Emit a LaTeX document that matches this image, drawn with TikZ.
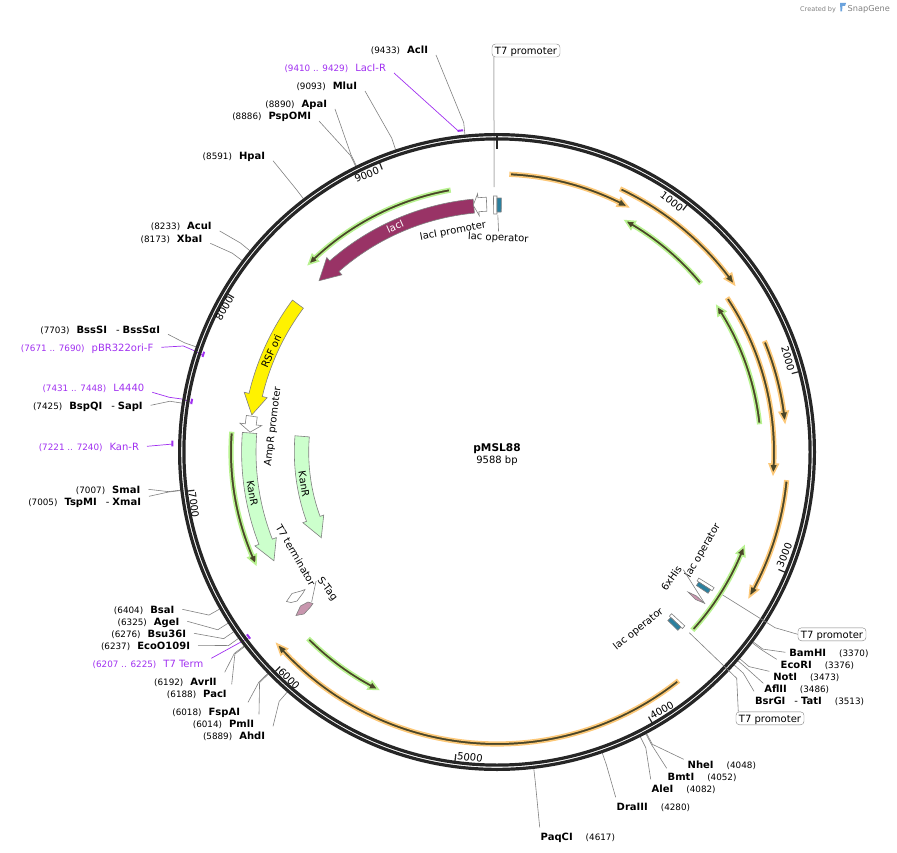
\documentclass[tikz,border=0pt]{standalone}
\usepackage{fontspec}
\setmainfont{DejaVu Sans}
\usepackage{xcolor}
\definecolor{primerpurple}{HTML}{A030F0}
\definecolor{ringdark}{HTML}{262626}
\definecolor{halodark}{HTML}{4A4628}
\definecolor{haloorange}{HTML}{FCC878}
\definecolor{halogreen}{HTML}{B8F290}
\definecolor{lacmagenta}{HTML}{993366}
\definecolor{kanlight}{HTML}{CCFFCC}
\definecolor{opteal}{HTML}{2A7F9E}
\definecolor{tagpink}{HTML}{C896AE}

\newcommand{\numfont}{\fontsize{8.8}{10}\selectfont}
\newcommand{\cutl}[2]{{\numfont(#1)}\hspace{7pt}\textbf{#2}}
\newcommand{\cutr}[2]{\textbf{#1}\hspace{13pt}{\numfont(#2)}}
\newcommand{\featarrow}[7][]{\path[#1] ({90-#2}:{#5+#6}) arc[start angle={90-#2}, end angle={90-#3}, radius={#5+#6}] -- ({90-#3}:{#5+#7}) -- ({90-#4}:#5) -- ({90-#3}:{#5-#7}) -- ({90-#3}:{#5-#6}) arc[start angle={90-#3}, end angle={90-#2}, radius={#5-#6}] -- cycle;}
\newcommand{\sectorbox}[5][]{\path[#1] ({90-#2}:#4) arc[start angle={90-#2}, end angle={90-#3}, radius=#4] -- ({90-#3}:#5) arc[start angle={90-#3}, end angle={90-#2}, radius=#5] -- cycle;}
\newcommand{\siteline}[2]{\draw[leader, shift={(497,-452)}] (#1) -- ({90-#2*0.037547}:331) -- ({90-#2*0.037547}:319);}

\tikzset{
  txt/.style={inner sep=0pt, text height=9pt, text depth=1pt, font=\fontsize{10}{12}\selectfont},
  enzl/.style={txt, anchor=east, outer xsep=8pt, outer ysep=0pt},
  enzr/.style={txt, anchor=west, outer xsep=4pt, outer ysep=0pt},
  primerl/.style={enzl, text=primerpurple},
  boxed/.style={txt, draw=gray, rounded corners=3.5pt, inner xsep=3pt, inner ysep=1.5pt},
  ticklabel/.style={txt},
  leader/.style={draw=gray, line width=0.6pt},
  lightleader/.style={draw=black!30, line width=1pt},
  primerline/.style={draw=primerpurple, line width=0.7pt},
  primermark/.style={draw=primerpurple, line width=2pt},
  ringtick/.style={draw=ringdark, line width=1.2pt},
  orangef/.style={fill=halodark, draw=haloorange, line width=1.6pt, miter limit=6},
  greenf/.style={fill=halodark, draw=halogreen, line width=1.6pt, miter limit=6},
  bigf/.style={draw=gray, line width=0.6pt},
}

\begin{document}
\begin{tikzpicture}[x=1pt, y=1pt]
\useasboundingbox (0,-853) rectangle (897,0);

\node (created) [txt, anchor=west, text=gray, font=\fontsize{6.5}{8}\selectfont] at (800,-7.5) {Created by};
\node (snapgene) [txt, anchor=west, text=gray, font=\fontsize{8.2}{10}\selectfont] at (847.5,-7.5) {SnapGene};
\path[fill=cyan!60!blue!60] (840,-3) -- (846,-3) -- (845,-6) -- (842.5,-6) -- (842,-11.5) -- (840.5,-11.5) -- cycle;

% labels round the ring, left half
\node (acli) [enzl] at (436,-50) {\cutl{9433}{AclI}};
\node (lacir) [primerl] at (394,-68) {{\numfont(9410 .. 9429)}\hspace{7pt}LacI-R};
\node (mlui) [enzl] at (365,-86) {\cutl{9093}{MluI}};
\node (apai) [enzl] at (335,-104) {\cutl{8890}{ApaI}};
\node (pspomi) [enzl] at (319,-116) {\cutl{8886}{PspOMI}};
\node (hpai) [enzl] at (273,-155.7) {\cutl{8591}{HpaI}};
\node (acui) [enzl] at (219.7,-226) {\cutl{8233}{AcuI}};
\node (xbai) [enzl] at (210.3,-238.3) {\cutl{8173}{XbaI}};
\node (bsssi) [enzl] at (168,-329.3) {\cutl{7703}{BssSI}\hspace{9pt}-\hspace{3pt}\textbf{BssSαI}};
\node (pbrf) [primerl] at (161.3,-347.3) {{\numfont(7671 .. 7690)}\hspace{7pt}pBR322ori-F};
\node (lfour) [primerl] at (152.3,-387.3) {{\numfont(7431 .. 7448)}\hspace{7pt}L4440};
\node (bspqi) [enzl] at (150.7,-405.3) {\cutl{7425}{BspQI}\hspace{9pt}-\hspace{3pt}\textbf{SapI}};
\node (kanprimer) [primerl] at (147,-446.3) {{\numfont(7221 .. 7240)}\hspace{7pt}Kan-R};
\node (smai) [enzl] at (148.3,-489.3) {\cutl{7007}{SmaI}};
\node (tspmi) [enzl] at (149,-501.3) {\cutl{7005}{TspMI}\hspace{9pt}-\hspace{3pt}\textbf{XmaI}};
\node (bsai) [enzl] at (182.3,-609.3) {\cutl{6404}{BsaI}};
\node (agei) [enzl] at (187.3,-621.3) {\cutl{6325}{AgeI}};
\node (bsu) [enzl] at (194,-633.3) {\cutl{6276}{Bsu36I}};
\node (ecoo) [enzl] at (198,-645.3) {\cutl{6237}{EcoO109I}};
\node (tterm) [primerl] at (211.3,-663.3) {{\numfont(6207 .. 6225)}\hspace{7pt}T7 Term};
\node (avrii) [enzl, outer ysep=4pt] at (224.7,-681.3) {\cutl{6192}{AvrII}};
\node (paci) [enzl, outer xsep=5pt, outer ysep=4pt] at (231.7,-693.3) {\cutl{6188}{PacI}};
\node (fspai) [enzl, outer ysep=4pt] at (248,-711.3) {\cutl{6018}{FspAI}};
\node (pmli) [enzl, outer xsep=5pt, outer ysep=4pt] at (259,-723.3) {\cutl{6014}{PmlI}};
\node (ahdi) [enzl, outer ysep=4pt] at (273,-735.3) {\cutl{5889}{AhdI}};

% labels round the ring, right half
\node (bamhi) [enzr] at (785.3,-652.3) {\cutr{BamHI}{3370}};
\node (ecori) [enzr] at (776.7,-664.3) {\cutr{EcoRI}{3376}};
\node (noti) [enzr] at (769.3,-676.3) {\cutr{NotI}{3473}};
\node (aflii) [enzr, outer xsep=1pt] at (763.3,-688.3) {\cutr{AflII}{3486}};
\node (bsrgi) [enzr, outer xsep=1pt, outer ysep=4pt] at (754,-700.3) {\textbf{BsrGI}\hspace{9pt}-\hspace{3pt}\textbf{TatI}\hspace{13pt}{\numfont(3513)}};
\node (nhei) [enzr] at (683.7,-764.3) {\cutr{NheI}{4048}};
\node (bmti) [enzr, outer xsep=1pt, outer ysep=3pt] at (666.7,-776.3) {\cutr{BmtI}{4052}};
\node (alei) [enzr, outer xsep=1pt, outer ysep=4pt] at (650.7,-788.3) {\cutr{AleI}{4082}};
\node (draiii) [enzr, outer xsep=1pt, outer ysep=4pt] at (615.7,-806.3) {\cutr{DraIII}{4280}};
\node (paqci) [enzr, outer xsep=1pt, outer ysep=4pt] at (539.7,-836.3) {\cutr{PaqCI}{4617}};

\node (tsevtop) [boxed] at (526,-50.5) {T7 promoter};
\node (tsevright) [boxed] at (832,-634.3) {T7 promoter};
\node (tsevlow) [boxed] at (770,-718.3) {T7 promoter};

\siteline{acli.south east}{9433}
\siteline{mlui.south east}{9093}
\siteline{apai.south east}{8890}
\siteline{pspomi.south east}{8886}
\siteline{hpai.south east}{8591}
\siteline{acui.south east}{8233}
\siteline{xbai.south east}{8173}
\siteline{bsssi.south east}{7703}
\siteline{bspqi.east}{7425}
\siteline{smai.east}{7007}
\siteline{tspmi.north east}{7005}
\siteline{bsai.east}{6404}
\siteline{agei.east}{6325}
\siteline{bsu.east}{6276}
\siteline{ecoo.east}{6237}
\siteline{avrii.north east}{6192}
\siteline{paci.north east}{6188}
\siteline{fspai.north east}{6018}
\siteline{pmli.north east}{6014}
\siteline{ahdi.north east}{5889}
\siteline{bamhi.west}{3370}
\siteline{ecori.north west}{3376}
\siteline{noti.north west}{3473}
\siteline{aflii.north west}{3486}
\siteline{bsrgi.north west}{3513}
\siteline{nhei.north west}{4048}
\siteline{bmti.north west}{4052}
\siteline{alei.north west}{4082}
\siteline{draiii.north west}{4280}
\siteline{paqci.north west}{4617}

\begin{scope}[shift={(497,-452)}]
\coordinate (lacirmark) at (96.9:323.5);
\coordinate (pbrmark) at (-198.2:310);
\coordinate (lfourmark) at (-189.2:310);
\coordinate (kanmark) at (-181.4:324.8);
\coordinate (ttermmark) at (-143.2:310);
\coordinate (tsevtopend) at (90.6:265);
\coordinate (opertop) at (89.8:237);
\end{scope}

\draw[primerline] (lacir.south east) -- (lacirmark);
\draw[primerline] (pbrf.east) -- (183.3,-346) -- (192.7,-350) -- (pbrmark);
\draw[primerline] (lfour.south east) -- (169.3,-397.3) -- (181.7,-399) -- (lfourmark);
\draw[primerline] (kanprimer.east) -- (kanmark);
\draw[primerline] (tterm.north east) -- (ttermmark);

\draw[lightleader] (tsevtop.south west) ++(2,0) -- (tsevtopend);

\begin{scope}[shift={(497,-452)}]
\draw[ringdark, line width=3.2pt] (0,0) circle (317.4);
\draw[ringdark, line width=3.2pt] (0,0) circle (313.1);
\draw[ringtick, line width=2.4pt] (90:317) -- (90:303);
\draw[ringtick] (52.45:312) -- (52.45:305);
\draw[ringtick] (14.9:312) -- (14.9:305);
\draw[ringtick] (-22.65:312) -- (-22.65:305);
\draw[ringtick] (-60.2:312) -- (-60.2:305);
\draw[ringtick] (-97.75:312) -- (-97.75:305);
\draw[ringtick] (-135.3:312) -- (-135.3:305);
\draw[ringtick] (-172.8:312) -- (-172.8:305);
\draw[ringtick] (-210.4:312) -- (-210.4:305);
\draw[ringtick] (-247.9:312) -- (-247.9:305);

\draw[primermark] (97:323.5) arc[start angle=97, end angle=96, radius=323.5];
\draw[primermark] (-197.9:309.5) arc[start angle=-197.9, end angle=-198.9, radius=309.5];
\draw[primermark] (-188.9:309.5) arc[start angle=-188.9, end angle=-189.9, radius=309.5];
\draw[primermark] (-181:324.8) arc[start angle=-181, end angle=-182, radius=324.8];
\draw[primermark] (-142.9:309.5) arc[start angle=-142.9, end angle=-143.9, radius=309.5];

\featarrow[orangef]{2.7}{26}{28.1}{278}{1.8}{4.5}
\featarrow[orangef]{25.2}{52.7}{54.8}{290.5}{1.8}{4.5}
\featarrow[orangef]{56.3}{92.5}{94.6}{277}{1.8}{4.5}
\featarrow[orangef]{67.6}{82}{84.1}{289.5}{1.8}{4.5}
\featarrow[orangef]{95.7}{117.8}{119.9}{291}{1.8}{4.5}
\featarrow[orangef]{141.7}{226.8}{228.9}{292}{1.8}{4.5}
\featarrow[greenf]{50.3}{31}{29}{264.5}{1.8}{4.5}
\featarrow[greenf]{83.8}{58.4}{56.4}{264}{1.8}{4.5}
\featarrow[greenf]{132.2}{112.9}{110.9}{264.5}{1.8}{4.5}
\featarrow[greenf]{225.2}{208.6}{206.6}{265.5}{1.8}{4.5}
\featarrow[greenf]{274.2}{247}{245}{266}{1.8}{4.5}
\featarrow[greenf]{349.8}{316.9}{314.9}{266}{1.8}{4.5}

\featarrow[bigf, fill=lacmagenta]{354.6}{318.8}{313.9}{247}{7}{11.5}
\featarrow[bigf, fill=yellow]{306.6}{283.3}{278.6}{248}{6.8}{11.8}
\featarrow[bigf, fill=kanlight]{274.4}{248.8}{244}{248.2}{7.2}{11.5}
\featarrow[bigf, fill=kanlight]{274.6}{250}{244}{195.5}{7.2}{11.1}
\featarrow[bigf, fill=white]{278.3}{276.4}{274.6}{247.8}{5.5}{11}
\featarrow[bigf, fill=white]{357.6}{355.7}{354.5}{248}{7}{11}

\sectorbox[bigf, fill=white]{-0.8}{0}{238}{256}
\sectorbox[bigf, fill=opteal]{0}{1}{240}{254}
\sectorbox[bigf, fill=white]{122}{122.8}{238}{256}
\sectorbox[bigf, fill=opteal]{122.8}{123.8}{240}{254}
\sectorbox[bigf, fill=white]{132.8}{133.6}{238}{256}
\sectorbox[bigf, fill=opteal]{133.6}{134.6}{240}{254}
\end{scope}

% small features
\draw[bigf, fill=white] (286.5,-601.5) -- (292,-593.5) -- (301,-591) -- (305,-589.5) -- (303,-593) -- (297,-601) -- (291,-602.5) -- cycle;
\draw[bigf, fill=tagpink] (296,-615.5) -- (300.5,-606) -- (308,-602) -- (313,-603.5) -- (310.5,-607) -- (304,-614) -- cycle;
\draw[bigf, fill=tagpink] (688,-592) -- (696.5,-596) -- (704,-603) -- (695.5,-599.5) -- cycle;

\node (pmsl) [txt, font=\fontsize{10.6}{12}\selectfont\bfseries] at (497,-447) {pMSL88};
\node (size) [txt] at (497,-459) {9588 bp};

\node (t1000) [ticklabel, rotate=-37.5] at (672,-201) {1000};
\node (t2000) [ticklabel, rotate=-75] at (788.3,-358.3) {2000};
\node (t3000) [ticklabel, rotate=67.4] at (784,-555) {3000};
\node (t4000) [ticklabel, rotate=29.8] at (661.7,-710) {4000};
\node (t5000) [ticklabel, rotate=-7.7] at (470,-757) {5000};
\node (t6000) [ticklabel, rotate=-45.3] at (289.3,-678.3) {6000};
\node (t7000) [ticklabel, rotate=-82.8] at (194.3,-505) {7000};
\node (t8000) [ticklabel, rotate=59.6] at (224,-308.3) {8000};
\node (t9000) [ticklabel, rotate=22.1] at (366.7,-174.3) {9000};

\node (lacilabel) [txt, text=white, rotate=24] at (395,-226) {lacI};
\node (rsflabel) [txt, rotate=66] at (271,-351) {RSF ori};
\node (kanleft) [txt, rotate=-80.4] at (252.7,-493.3) {KanR};
\node (kanright) [txt, rotate=-80.6] at (304.3,-484) {KanR};
\node (lacip) [txt, rotate=10.5] at (452.7,-230) {lacI promoter};
\node (lacoptop) [txt, rotate=-3] at (498.3,-236.7) {lac operator};
\node (ampr) [txt, rotate=83] at (271.7,-426.7) {AmpR promoter};
\node (tseventerm) [txt, rotate=-60] at (296,-555) {T7 terminator};
\node (stag) [txt, rotate=-52] at (328.3,-588.3) {S-Tag};
\node (hislabel) [txt, rotate=55] at (671,-578.3) {6xHis};
\node (lacopup) [txt, rotate=60] at (701.7,-550) {lac operator};
\node (lacoplow) [txt, rotate=38.7] at (637.7,-628.3) {lac operator};

\draw[leader] (lacoptop.north) -- (opertop);
\draw[leader] (stag.south west) -- (311.7,-601.7);
\draw[leader] (hislabel.south east) -- (705,-604);
\draw[leader] (tsevright.west) -- (775,-627.7) -- (722.7,-595);
\draw[leader] (tsevlow.north west) ++(2.5,0) -- (736.7,-678.3) -- (689.3,-632.7);
\end{tikzpicture}
\end{document}
